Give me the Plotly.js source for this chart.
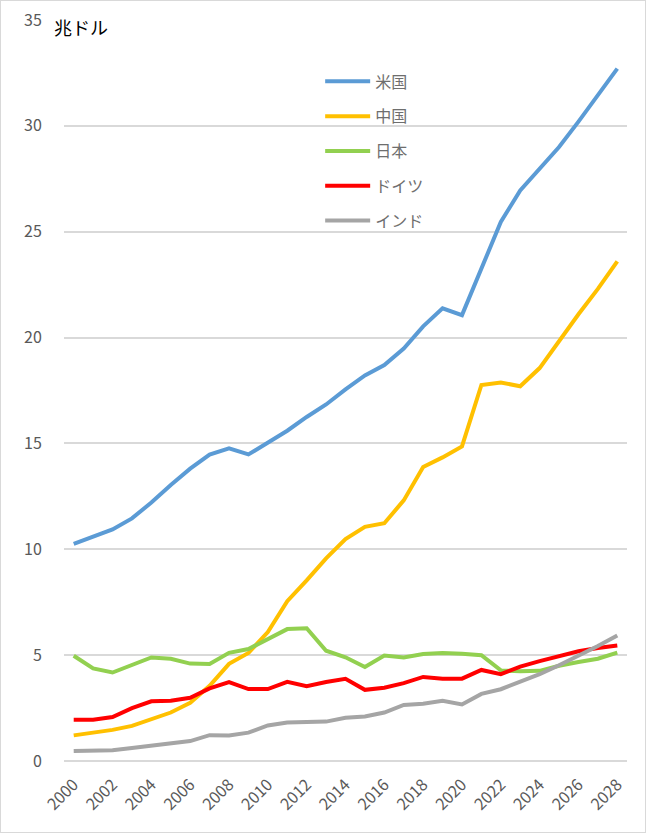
<!DOCTYPE html>
<html lang="ja">
<head>
<meta charset="utf-8">
<title>GDP</title>
<script src="https://cdn.plot.ly/plotly-3.0.1.min.js"></script>
<style>
body{margin:0;background:#fff;}
#chart{width:644px;height:831px;border:1px solid #d9d9d9;}
</style>
</head>
<body>
<div id="chart"></div>
<script>
var years = [];
for (var y = 2000; y <= 2028; y++) years.push(y);

var names = ["米国", "中国", "日本", "ドイツ", "インド"];
var colors = ["#5b9bd5", "#ffc000", "#92d050", "#ff0000", "#a5a5a5"];

var usa = [10.25,10.58,10.94,11.46,12.21,13.04,13.81,14.47,14.77,14.48,15.05,15.60,16.25,16.84,17.55,18.21,18.70,19.48,20.53,21.38,21.06,23.32,25.46,26.95,27.97,29.00,30.20,31.45,32.70];
var china = [1.21,1.34,1.47,1.66,1.96,2.29,2.75,3.55,4.59,5.10,6.09,7.55,8.53,9.57,10.48,11.06,11.23,12.31,13.89,14.34,14.86,17.76,17.88,17.70,18.56,19.85,21.10,22.30,23.60];
var japan = [4.97,4.37,4.18,4.52,4.89,4.83,4.60,4.58,5.11,5.29,5.76,6.23,6.27,5.21,4.90,4.44,4.98,4.89,5.05,5.10,5.06,5.00,4.28,4.24,4.26,4.50,4.68,4.83,5.12];
var germany = [1.95,1.95,2.08,2.50,2.82,2.85,2.99,3.43,3.73,3.40,3.40,3.74,3.53,3.73,3.88,3.36,3.46,3.68,3.97,3.89,3.89,4.30,4.10,4.46,4.72,4.95,5.18,5.34,5.46];
var india = [0.47,0.48,0.51,0.61,0.71,0.83,0.94,1.22,1.20,1.34,1.68,1.82,1.83,1.86,2.04,2.10,2.29,2.65,2.70,2.84,2.67,3.17,3.39,3.74,4.10,4.52,4.95,5.43,5.93];
var series = [usa, china, japan, germany, india];

var font = "Noto Sans CJK JP, sans-serif";

var data = [];
for (var i = 0; i < series.length; i++) {
    data.push({
        x: years,
        y: series[i],
        name: names[i],
        type: 'scatter',
        mode: 'lines',
        legendgroup: 'g' + i,
        line: {color: colors[i], width: 4}
    });
}

var layout = {
    width: 644,
    height: 831,
    margin: {l: 63, r: 18, t: 19, b: 71},
    paper_bgcolor: '#fff',
    plot_bgcolor: '#fff',
    font: {family: font, color: '#595959', size: 16},
    showlegend: true,
    legend: {
        x: 0.455, y: 0.94, xanchor: 'left', yanchor: 'top',
        traceorder: 'grouped', tracegroupgap: 11,
        itemwidth: 45,
        bgcolor: 'rgba(0,0,0,0)',
        font: {family: font, size: 16, color: '#6e6e6e'}
    },
    xaxis: {
        range: [1999.5, 2028.5],
        tickvals: years.filter(function(v){ return v % 2 === 0; }),
        tickangle: -45,
        showgrid: false,
        zeroline: false,
        showline: false,
        ticks: 'outside',
        ticklen: 7,
        tickcolor: 'rgba(0,0,0,0)',
        tickfont: {family: font, size: 16, color: '#595959'}
    },
    yaxis: {
        range: [0, 35],
        dtick: 5,
        showgrid: true,
        gridcolor: '#d9d9d9',
        gridwidth: 1.5,
        zeroline: true,
        zerolinecolor: '#d9d9d9',
        zerolinewidth: 1.5,
        showline: false,
        ticks: 'outside',
        ticklen: 18,
        tickcolor: 'rgba(0,0,0,0)',
        tickfont: {family: font, size: 16, color: '#595959'}
    },
    annotations: [{
        text: '兆ドル',
        xref: 'paper', yref: 'paper',
        x: -0.022, y: 0.99,
        xanchor: 'left', yanchor: 'middle',
        showarrow: false,
        font: {family: font, size: 18, color: '#000'}
    }]
};

Plotly.newPlot('chart', data, layout, {displayModeBar: false});
</script>
</body>
</html>
